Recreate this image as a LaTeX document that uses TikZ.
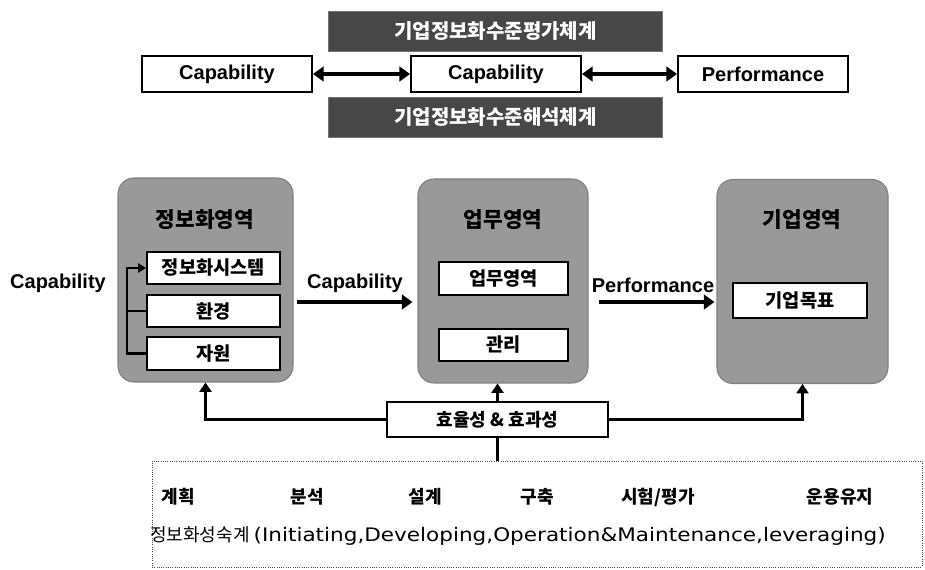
\documentclass[tikz,border=0pt]{standalone}
\usepackage{fontspec}
\setmainfont{Liberation Sans}
\newfontfamily\kr{Noto Sans CJK KR}
\newfontfamily\dejavu{DejaVu Sans}
\usetikzlibrary{arrows.meta,calc}
\begin{document}
\begin{tikzpicture}[x=0.75pt,y=-0.75pt,
  band/.style={fill=black!72, draw=black!55, text=white, font=\kr\bfseries\fontsize{15}{18}\selectfont, minimum width=250.5pt, minimum height=30pt, inner sep=0pt},
  topbox/.style={draw=black, line width=1.5pt, fill=white, minimum width=127.5pt, minimum height=27pt, inner sep=0pt, font=\bfseries\fontsize{15}{18}\selectfont},
  region/.style={draw=black!50, fill=black!40, rounded corners=12pt, line width=0.8pt, minimum width=130pt, minimum height=153pt, inner sep=0pt},
  title/.style={font=\kr\bfseries\fontsize{16}{19}\selectfont, inner sep=0pt},
  innerbox/.style={draw=black, line width=1.5pt, fill=white, minimum height=24.5pt, inner sep=0pt, font=\kr\bfseries\fontsize{14}{17}\selectfont},
  lbl/.style={font=\bfseries\fontsize{15}{18}\selectfont, inner sep=0pt},
  dbl/.style={line width=2.6pt, {Triangle[length=8pt,width=11pt]}-{Triangle[length=8pt,width=11pt]}},
  bigarrow/.style={line width=2.6pt, -{Triangle[length=8pt,width=11pt]}},
  uparrow/.style={line width=1.6pt, -{Triangle[length=7pt,width=9pt]}},
  plain/.style={line width=1.6pt},
  phase/.style={font=\kr\bfseries\fontsize{13.5}{16}\selectfont, inner sep=0pt}
]
\useasboundingbox (0,0) rectangle (925,570);

% top part
\node[band] (band1) at (495.5,31) {기업정보화수준평가체계};
\node[band] (band2) at (495.5,117) {기업정보화수준해석체계};
\node[topbox] (t1) at (227,74) {Capability};
\node[topbox] (t2) at (496,74) {Capability};
\node[topbox] (t3) at (763,74) {Performance};
\draw[dbl] (t1) -- (t2);
\draw[dbl] (t2) -- (t3);

% regions
\node[region, minimum width=131.25pt] (r1) at (205.5,280) {};
\node[region, minimum width=127.5pt] (r2) at (503,281) {};
\node[region, minimum width=128.25pt] (r3) at (802.5,281.5) {};
\node[title] (h1) at (205,220) {정보화영역};
\node[title] (h2) at (503,220) {업무영역};
\node[title] (h3) at (802,220) {기업영역};

\node[innerbox, minimum width=99.75pt] (i11) at (213.5,268) {정보화시스템};
\node[innerbox, minimum width=99.75pt] (i12) at (213.5,311) {환경};
\node[innerbox, minimum width=99.75pt] (i13) at (213.5,353.5) {자원};
\node[innerbox, minimum width=96.75pt] (i21) at (503.5,278.5) {업무영역};
\node[innerbox, minimum width=96.75pt] (i22) at (503.5,345) {관리};
\node[innerbox, minimum width=100.5pt, minimum height=26pt] (i31) at (800,300.5) {기업목표};

% bracket
\draw[plain, -{Triangle[length=6pt,width=7pt]}] (i13.west) -- ++(-19,0) |- (i11.west);
\draw[plain] (i12.west) -- ++(-19,0);

% labels and flow arrows
\node[lbl] (capL) at (58,283) {Capability};
\node[lbl] (capM) at (355,283) {Capability};
\node[lbl] (perf) at (653,285) {Performance};
\draw[bigarrow] ($(r1.east)+(3,22)$) -- ($(r2.west)+(-5,21)$);
\draw[bigarrow] ($(r2.east)+(10,21)$) -- ($(r3.west)+(-2,20.5)$);

% efficiency box
\node[draw=black, line width=1.2pt, fill=white, minimum width=165.75pt, minimum height=26.25pt, inner sep=0pt, font=\kr\bfseries\fontsize{13.5}{16}\selectfont] (eff) at (497.5,419.5) {효율성 \& 효과성};
\draw[uparrow] (eff.west) -| (r1.south);
\draw[uparrow] (eff.east) -| (r3.south);
\draw[uparrow] (eff.north) -- (eff.north |- r2.south);

% bottom dashed box
\node[draw=black!70, densely dotted, line width=0.7pt, minimum width=577.5pt, minimum height=79.5pt, inner sep=0pt] (life) at (537,514) {};
\draw[plain] (eff.south) -- (eff.south |- life.north);

\node[phase] (p1) at (178,497) {계획};
\node[phase] (p2) at (307,497) {분석};
\node[phase] (p3) at (425,497) {설계};
\node[phase] (p4) at (537,497) {구축};
\node[phase] (p5) at (658,497) {시험/평가};
\node[phase] (p6) at (840,497) {운용유지};

\node[inner sep=0pt, anchor=west] (mat) at (150,536) {\kr\fontsize{13.5}{16}\selectfont 정보화성숙계\ \resizebox{474pt}{\height}{\dejavu\fontsize{14}{17}\selectfont (Initiating,Developing,Operation\&Maintenance,leveraging)}};
\end{tikzpicture}
\end{document}
